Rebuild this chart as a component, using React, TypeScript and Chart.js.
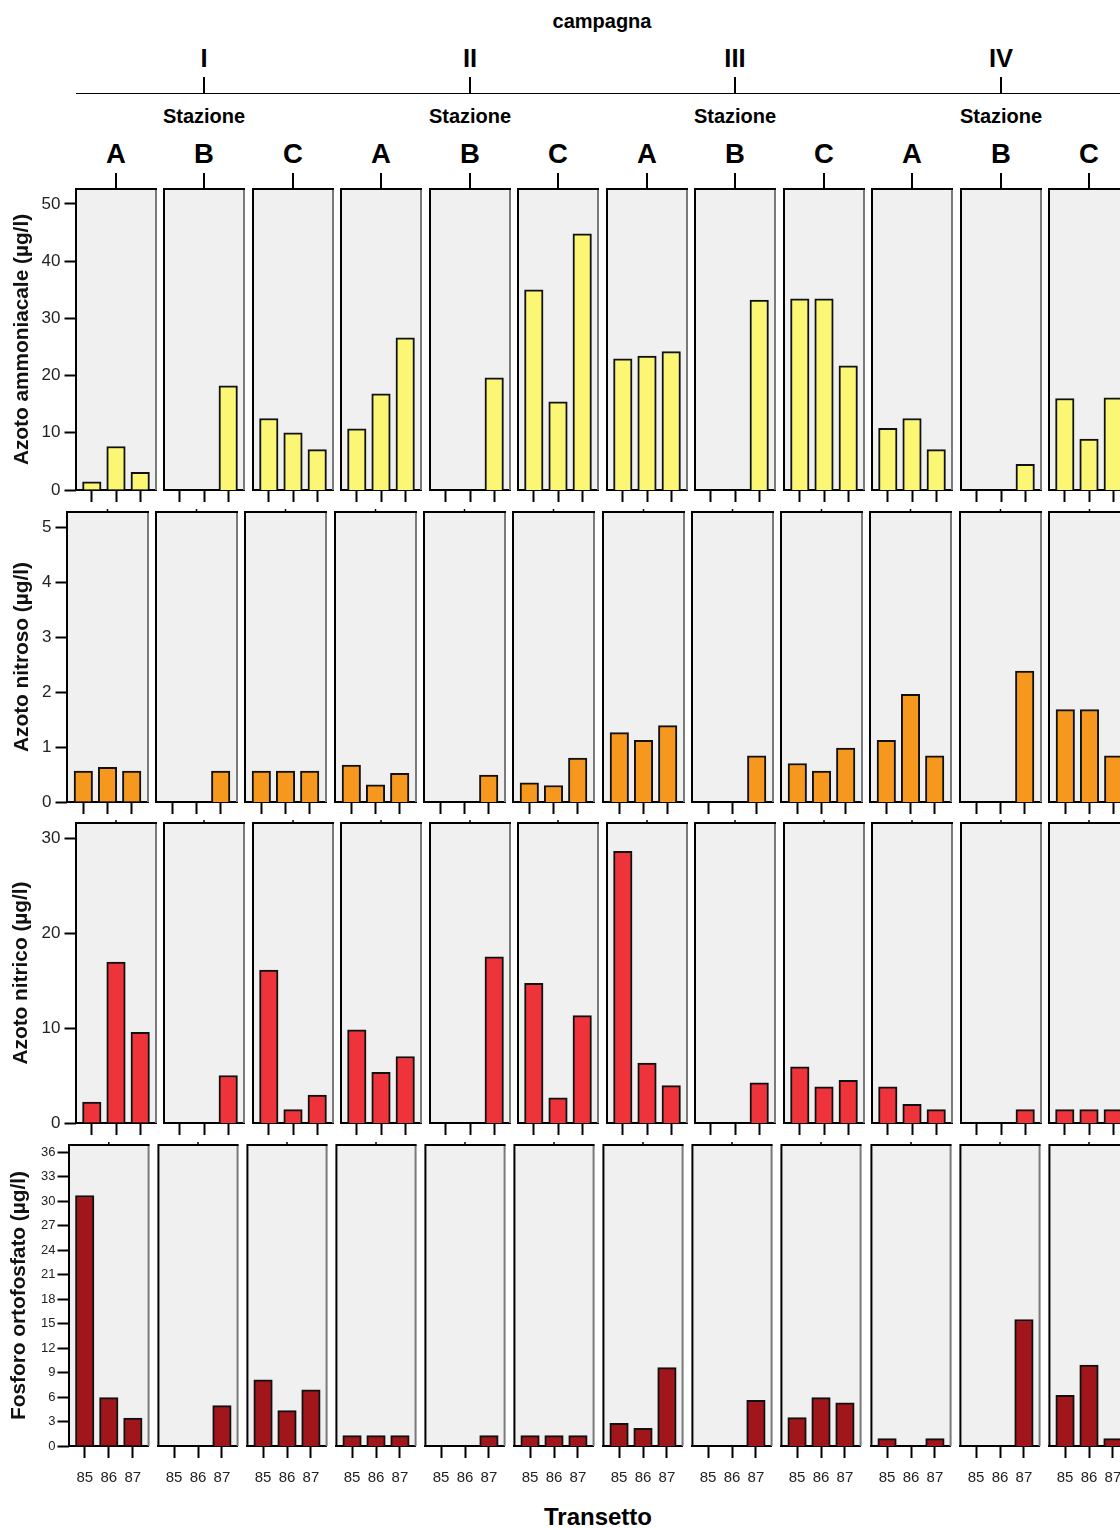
import React, { useEffect, useRef } from "react";
import { Chart, registerables } from "chart.js";

Chart.register(...registerables);

const FONT = '"Liberation Sans", Arial, Helvetica, sans-serif';

// ---------- data ----------
const transetti = ["85", "86", "87"];
const campagne = ["I", "II", "III", "IV"];
const stazioni = ["A", "B", "C"];

// one entry per panel (campagna I..IV × stazione A..C), each = [85, 86, 87]
const azotoAmmoniacale = [
  [1.45, 7.6, 3.1], [0, 0, 18.2], [12.5, 10.0, 7.05],
  [10.7, 16.8, 26.6], [0, 0, 19.6], [35.0, 15.4, 44.8],
  [22.95, 23.4, 24.2], [0, 0, 33.2], [33.4, 33.4, 21.7],
  [10.8, 12.5, 7.05], [0, 0, 4.5], [16.0, 8.9, 16.1],
];
const azotoNitroso = [
  [0.56, 0.63, 0.56], [0, 0, 0.56], [0.56, 0.56, 0.56],
  [0.67, 0.31, 0.52], [0, 0, 0.49], [0.35, 0.3, 0.8],
  [1.26, 1.12, 1.39], [0, 0, 0.84], [0.7, 0.56, 0.98],
  [1.12, 1.96, 0.84], [0, 0, 2.38], [1.68, 1.68, 0.84],
];
const azotoNitrico = [
  [2.2, 16.95, 9.55], [0, 0, 5.0], [16.1, 1.4, 2.95],
  [9.82, 5.33, 7.0], [0, 0, 17.5], [14.7, 2.66, 11.3],
  [28.6, 6.3, 3.93], [0, 0, 4.24], [5.9, 3.8, 4.5],
  [3.8, 1.96, 1.4], [0, 0, 1.4], [1.4, 1.4, 1.4],
];
const fosforoOrtofosfato = [
  [30.7, 5.93, 3.43], [0, 0, 4.94], [8.1, 4.33, 6.87],
  [1.27, 1.27, 1.27], [0, 0, 1.27], [1.27, 1.27, 1.27],
  [2.78, 2.17, 9.6], [0, 0, 5.6], [3.47, 5.93, 5.3],
  [0.9, 0, 0.9], [0, 0, 15.5], [6.2, 9.93, 0.9],
];

const ticksAmmoniacale = [0, 10, 20, 30, 40, 50];
const ticksNitroso = [0, 1, 2, 3, 4, 5];
const ticksNitrico = [0, 10, 20, 30];
const ticksOrtofosfato = [0, 3, 6, 9, 12, 15, 18, 21, 24, 27, 30, 33, 36];

// ---------- layout ----------
const PITCH = 24.2; // bar spacing in px
const NPANELS = 12;
const lefts = (start: number, pitch: number) =>
  Array.from({ length: NPANELS }, (_, i) => Math.round(start + i * pitch));

type RowSpec = {
  title: string;
  values: number[][];
  ticks: number[];
  max: number;
  color: string;
  top: number;
  height: number;
  lefts: number[];
  width: number;
  tickFont: number;
  tickPad: number;
  titlePad: number;
  bottomH: number;
  xLabels: boolean;
  topTick: boolean;
};

const rows: RowSpec[] = [
  {
    title: "Azoto ammoniacale (µg/l)", values: azotoAmmoniacale, ticks: ticksAmmoniacale,
    max: 52.62, color: "#FBF775", top: 189, height: 301, lefts: lefts(76, 88.48), width: 80,
    tickFont: 17, tickPad: 4, titlePad: 9.9, bottomH: 16, xLabels: false, topTick: false,
  },
  {
    title: "Azoto nitroso (µg/l)", values: azotoNitroso, ticks: ticksNitroso,
    max: 5.273, color: "#F7981E", top: 512, height: 290, lefts: lefts(66.7, 89.3), width: 81,
    tickFont: 17, tickPad: 4, titlePad: 9.4, bottomH: 16, xLabels: false, topTick: true,
  },
  {
    title: "Azoto nitrico (µg/l)", values: azotoNitrico, ticks: ticksNitrico,
    max: 31.58, color: "#EF333A", top: 823, height: 300, lefts: lefts(76, 88.48), width: 80,
    tickFont: 17, tickPad: 4, titlePad: 9.0, bottomH: 16, xLabels: false, topTick: true,
  },
  {
    title: "Fosforo ortofosfato (µg/l)", values: fosforoOrtofosfato, ticks: ticksOrtofosfato,
    max: 36.89, color: "#A1161B", top: 1145, height: 301, lefts: lefts(69, 89.06), width: 80,
    tickFont: 13, tickPad: 2, titlePad: 7.0, bottomH: 46, xLabels: true, topTick: true,
  },
];

const panelFrame = {
  id: "panelFrame",
  beforeDraw(chart: any) {
    const { ctx, chartArea: a } = chart;
    ctx.save();
    ctx.fillStyle = "#F0F0F0";
    ctx.fillRect(a.left, a.top, a.right - a.left, a.bottom - a.top);
    ctx.restore();
  },
  afterDraw(chart: any, _args: any, opts: any) {
    const { ctx, chartArea: a } = chart;
    ctx.save();
    ctx.lineWidth = 2;
    ctx.strokeStyle = "#7A7A7A";
    ctx.beginPath();
    ctx.moveTo(a.right, a.top);
    ctx.lineTo(a.right, a.bottom);
    ctx.stroke();
    ctx.strokeStyle = "#000";
    ctx.beginPath();
    ctx.moveTo(a.left, a.bottom + 1);
    ctx.lineTo(a.left, a.top);
    ctx.lineTo(a.right + 1, a.top);
    ctx.stroke();
    if (opts && opts.topTick) {
      const cx = (a.left + a.right) / 2;
      ctx.lineWidth = 1.5;
      ctx.beginPath();
      ctx.moveTo(cx, a.top - 3);
      ctx.lineTo(cx, a.top);
      ctx.stroke();
    }
    ctx.restore();
  },
};

function Panel({ row, col }: { row: RowSpec; col: number }) {
  const ref = useRef<HTMLCanvasElement | null>(null);
  const panelLeft = row.lefts[col];
  const first = col === 0;
  const padL = first ? 0 : 4;
  const canvasLeft = first ? 0 : panelLeft - padL;
  const canvasTop = row.top - 20;
  const canvasW = panelLeft + row.width + 4 - canvasLeft;
  const canvasH = 20 + row.height + row.bottomH;

  useEffect(() => {
    if (!ref.current) return;
    const half = row.width / 2 / PITCH;
    const chart = new Chart(ref.current, {
      type: "bar",
      data: {
        datasets: [
          {
            data: row.values[col].map((v, i) => ({ x: i + 1, y: v })),
            backgroundColor: row.color,
            borderColor: "#111",
            borderWidth: 2,
            barThickness: 18.5,
          } as any,
        ],
      },
      options: {
        responsive: false,
        animation: false,
        events: [],
        layout: { padding: { left: padL, right: 4, top: 20, bottom: 0 } },
        plugins: {
          legend: { display: false },
          tooltip: { enabled: false },
          panelFrame: { topTick: row.topTick },
        } as any,
        scales: {
          x: {
            type: "linear",
            position: "bottom",
            bounds: "data",
            min: 2 - half,
            max: 2 + half,
            offset: false,
            z: 1,
            afterBuildTicks: (s: any) => {
              s.ticks = transetti.map((_, i) => ({ value: i + 1 }));
            },
            afterFit: (s: any) => {
              s.height = row.bottomH;
            },
            grid: {
              display: true,
              drawOnChartArea: false,
              drawTicks: true,
              tickLength: 12,
              tickWidth: 2,
              tickColor: "#000",
              offset: false,
            },
            border: { display: true, color: "#000", width: 2 },
            ticks: {
              display: row.xLabels,
              autoSkip: false,
              maxRotation: 0,
              minRotation: 0,
              padding: 11,
              color: "#222",
              font: { size: 15, family: FONT },
              callback: (v: any) => transetti[Number(v) - 1] ?? "",
            },
          },
          y: {
            type: "linear",
            position: "left",
            display: first,
            bounds: "data",
            min: 0,
            max: row.max,
            afterBuildTicks: (s: any) => {
              s.ticks = row.ticks.map((v) => ({ value: v }));
            },
            afterFit: (s: any) => {
              s.width = first ? panelLeft : 0;
            },
            grid: {
              display: true,
              drawOnChartArea: false,
              drawTicks: true,
              tickLength: 11.5,
              tickWidth: 2,
              tickColor: "#000",
            },
            border: { display: false },
            ticks: {
              autoSkip: false,
              padding: row.tickPad,
              color: "#222",
              font: { size: row.tickFont, family: FONT },
            },
            title: {
              display: true,
              text: row.title,
              color: "#111",
              font: { size: 20.8, weight: "bold", family: FONT },
              padding: { top: row.titlePad, bottom: 0 },
            },
          },
        } as any,
      },
      plugins: [panelFrame as any],
    });
    return () => chart.destroy();
  }, []);

  return (
    <canvas
      ref={ref}
      width={canvasW}
      height={canvasH}
      style={{ position: "absolute", left: canvasLeft, top: canvasTop, width: canvasW, height: canvasH }}
    />
  );
}

const textStyle = (x: number, y: number, size: number): React.CSSProperties => ({
  position: "absolute",
  left: x,
  top: y,
  transform: "translate(-50%, -50%)",
  fontFamily: FONT,
  fontWeight: "bold",
  fontSize: size,
  lineHeight: 1,
  whiteSpace: "nowrap",
  color: "#000",
});

const vline = (x: number, y1: number, y2: number): React.CSSProperties => ({
  position: "absolute",
  left: x - 1,
  top: y1,
  width: 2,
  height: y2 - y1,
  background: "#000",
});

function Header() {
  const topRow = rows[0];
  const centers = topRow.lefts.map((l) => l + topRow.width / 2);
  return (
    <>
      <div style={textStyle(602, 20.5, 20)}>campagna</div>
      <div style={{ position: "absolute", left: 76, top: 92.5, width: 1044, height: 1.5, background: "#000" }} />
      {campagne.map((c, ci) => {
        const x = centers[ci * 3 + 1];
        return (
          <React.Fragment key={c}>
            <div style={textStyle(x, 59, 25.5)}>{c}</div>
            <div style={vline(x, 77, 93)} />
            <div style={textStyle(x, 116.4, 20)}>Stazione</div>
          </React.Fragment>
        );
      })}
      {centers.map((x, i) => (
        <React.Fragment key={i}>
          <div style={textStyle(x, 153.6, 27.5)}>{stazioni[i % 3]}</div>
          <div style={vline(x, 173, 189)} />
        </React.Fragment>
      ))}
    </>
  );
}

export default function App() {
  return (
    <div
      style={{
        position: "absolute",
        left: 0,
        top: 0,
        width: 1120,
        height: 1528,
        overflow: "hidden",
        background: "#fff",
      }}
    >
      <Header />
      {rows.map((r, ri) => r.lefts.map((_, ci) => <Panel key={`${ri}-${ci}`} row={r} col={ci} />))}
      <div style={textStyle(598, 1516.7, 24)}>Transetto</div>
    </div>
  );
}
